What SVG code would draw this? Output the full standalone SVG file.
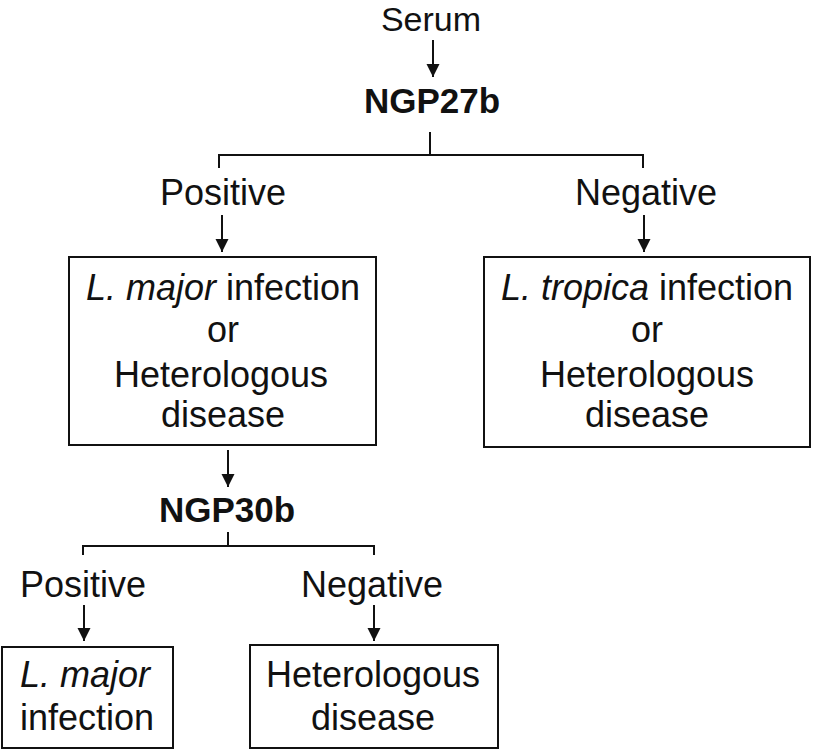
<svg xmlns="http://www.w3.org/2000/svg" width="813" height="751" viewBox="0 0 813 751">
<style>
text{font-family:"Liberation Sans",Arial,sans-serif;font-size:36px;fill:#111;text-anchor:middle}
.b{font-weight:bold;font-size:35px}
.i{font-style:italic}
.box{fill:#fff;stroke:#111;stroke-width:2}
.ln{fill:none;stroke:#111;stroke-width:2}
.ar{fill:none;stroke:#111;stroke-width:2;marker-end:url(#ah)}
</style>
<defs>
<marker id="ah" markerUnits="userSpaceOnUse" markerWidth="14" markerHeight="14" viewBox="0 0 14 14" refX="13" refY="7" orient="auto">
<path d="M0,0.5 L13,7 L0,13.5 Z" fill="#111"/>
</marker>
</defs>
<g id="connectors">
<line class="ar" x1="433" y1="40" x2="433" y2="77"/>
<polyline class="ln" points="430,132 430,155"/>
<polyline class="ln" points="219,168 219,155 643,155 643,168"/>
<line class="ar" x1="222" y1="215" x2="222" y2="252"/>
<line class="ar" x1="644" y1="215" x2="644" y2="252"/>
<line class="ar" x1="228" y1="450" x2="228" y2="487"/>
<polyline class="ln" points="228,532 228,546"/>
<polyline class="ln" points="83,555 83,546 374,546 374,555"/>
<line class="ar" x1="84" y1="605" x2="84" y2="641"/>
<line class="ar" x1="374" y1="605" x2="374" y2="641"/>
</g>
<g id="serum"><text x="431" y="31" style="font-size:34px">Serum</text></g>
<g id="ngp27b"><text class="b" x="432" y="113">NGP27b</text></g>
<g id="pos1"><text x="223" y="205">Positive</text></g>
<g id="neg1"><text x="646" y="205">Negative</text></g>
<g id="box-major-or">
<rect class="box" x="69" y="257" width="307" height="188"/>
<text x="223" y="300"><tspan class="i">L. major</tspan> infection</text>
<text x="223" y="342">or</text>
<text x="221" y="387">Heterologous</text>
<text x="223" y="427">disease</text>
</g>
<g id="box-tropica-or">
<rect class="box" x="484" y="257" width="326" height="190"/>
<text x="647" y="300"><tspan class="i">L. tropica</tspan> infection</text>
<text x="647" y="342">or</text>
<text x="647" y="387">Heterologous</text>
<text x="647" y="427">disease</text>
</g>
<g id="ngp30b"><text class="b" x="227" y="522">NGP30b</text></g>
<g id="pos2"><text x="83" y="597">Positive</text></g>
<g id="neg2"><text x="372" y="597">Negative</text></g>
<g id="box-major">
<rect class="box" x="2" y="647" width="171" height="101"/>
<text x="85" y="687" class="i">L. major</text>
<text x="87" y="730">infection</text>
</g>
<g id="box-hetero">
<rect class="box" x="250" y="645" width="248" height="103"/>
<text x="373" y="687">Heterologous</text>
<text x="373" y="730">disease</text>
</g>
</svg>
